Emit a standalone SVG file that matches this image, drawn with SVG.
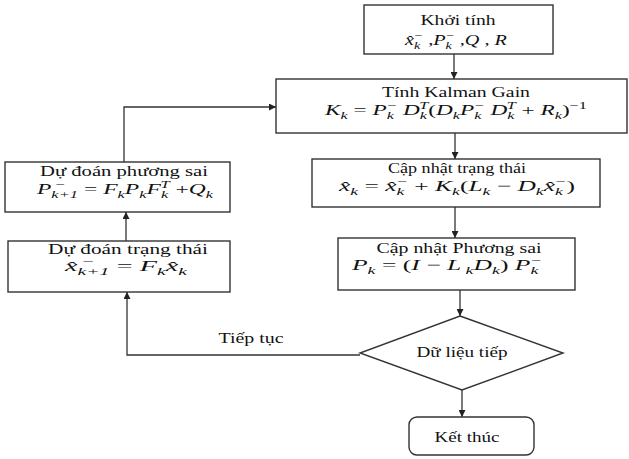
<svg xmlns="http://www.w3.org/2000/svg" width="629" height="459" viewBox="0 0 629 459">
<defs>
<marker id="ah" viewBox="0 0 10 10" refX="10" refY="5" markerWidth="7" markerHeight="7" orient="auto" markerUnits="userSpaceOnUse">
<path d="M0,0 L10,5 L0,10 Z" fill="#222"/>
</marker>
<style>
.box{fill:#fff;stroke:#333;stroke-width:1.4}
.ln{fill:none;stroke:#333;stroke-width:1.3}
text{font-family:"Times New Roman","Liberation Serif","DejaVu Serif","Noto Serif",serif;font-size:15px;fill:#111;text-anchor:middle}
.m{font-style:italic}
.s{font-size:10.5px}
.n{font-style:normal}
</style>
</defs>
<rect width="629" height="459" fill="#fff"/>

<g id="connectors">
<line class="ln" x1="454" y1="54" x2="454" y2="79" marker-end="url(#ah)"/>
<line class="ln" x1="455" y1="133" x2="455" y2="159" marker-end="url(#ah)"/>
<line class="ln" x1="455" y1="207" x2="455" y2="238" marker-end="url(#ah)"/>
<line class="ln" x1="460" y1="290" x2="460" y2="316" marker-end="url(#ah)"/>
<line class="ln" x1="462" y1="390" x2="462" y2="417" marker-end="url(#ah)"/>
<polyline class="ln" points="124,162 124,107 276,107" marker-end="url(#ah)"/>
<line class="ln" x1="126" y1="241" x2="126" y2="212" marker-end="url(#ah)"/>
<polyline class="ln" points="360,355 127,355 127,292" marker-end="url(#ah)"/>
<text x="251" y="343" textLength="65" lengthAdjust="spacingAndGlyphs">Tiếp tục</text>
</g>

<g id="khoi-tinh">
<rect class="box" x="364" y="5" width="189" height="49"/>
<text x="458" y="25" textLength="75" lengthAdjust="spacingAndGlyphs">Khởi tính</text>
<text class="m" x="456" y="45" textLength="102" lengthAdjust="spacingAndGlyphs">x̂<tspan class="s" dy="4">k</tspan><tspan class="s" dx="-5" dy="-10">−</tspan><tspan dy="6" class="n"> ,</tspan>P<tspan class="s" dy="4">k</tspan><tspan class="s" dx="-5" dy="-10">−</tspan><tspan dy="6" class="n"> ,</tspan>Q<tspan class="n"> ,</tspan> R</text>
</g>

<g id="kalman-gain">
<rect class="box" x="276" y="79" width="351" height="54"/>
<text x="456" y="97" textLength="148" lengthAdjust="spacingAndGlyphs">Tính Kalman Gain</text>
<text class="m" x="456" y="115" textLength="262" lengthAdjust="spacingAndGlyphs">K<tspan class="s" dy="4">k</tspan><tspan class="n" dy="-4"> = </tspan>P<tspan class="s" dy="4">k</tspan><tspan class="s" dx="-5" dy="-10">−</tspan><tspan dy="6"> D</tspan><tspan class="s" dy="4">k</tspan><tspan class="s" dx="-5" dy="-10">T</tspan><tspan class="n" dy="6">(</tspan>D<tspan class="s" dy="4">k</tspan><tspan dy="-4">P</tspan><tspan class="s" dy="4">k</tspan><tspan class="s" dx="-5" dy="-10">−</tspan><tspan dy="6"> D</tspan><tspan class="s" dy="4">k</tspan><tspan class="s" dx="-5" dy="-10">T</tspan><tspan class="n" dy="6"> + </tspan>R<tspan class="s" dy="4">k</tspan><tspan class="n" dy="-4">)</tspan><tspan class="s n" dy="-6">−1</tspan></text>
</g>

<g id="cap-nhat-trang-thai">
<rect class="box" x="312" y="159" width="288" height="48"/>
<text x="457" y="173" textLength="138" lengthAdjust="spacingAndGlyphs">Cập nhật trạng thái</text>
<text class="m" x="457" y="191" textLength="236" lengthAdjust="spacingAndGlyphs">x̂<tspan class="s" dy="4">k</tspan><tspan class="n" dy="-4"> = </tspan>x̂<tspan class="s" dy="4">k</tspan><tspan class="s" dx="-5" dy="-10">−</tspan><tspan class="n" dy="6"> + </tspan>K<tspan class="s" dy="4">k</tspan><tspan class="n" dy="-4">(</tspan>L<tspan class="s" dy="4">k</tspan><tspan class="n" dy="-4"> − </tspan>D<tspan class="s" dy="4">k</tspan><tspan dy="-4">x̂</tspan><tspan class="s" dy="4">k</tspan><tspan class="s" dx="-5" dy="-10">−</tspan><tspan class="n" dy="6">)</tspan></text>
</g>

<g id="cap-nhat-phuong-sai">
<rect class="box" x="338" y="238" width="237" height="52"/>
<text x="459" y="253" textLength="165" lengthAdjust="spacingAndGlyphs">Cập nhật Phương sai</text>
<text class="m" x="447" y="270" textLength="190" lengthAdjust="spacingAndGlyphs">P<tspan class="s" dy="4">k</tspan><tspan class="n" dy="-4"> = (</tspan>I<tspan class="n"> − </tspan>L<tspan class="s" dy="4"> k</tspan><tspan dy="-4">D</tspan><tspan class="s" dy="4">k</tspan><tspan class="n" dy="-4">) </tspan>P<tspan class="s" dy="4">k</tspan><tspan class="s" dx="-5" dy="-10">−</tspan></text>
</g>

<g id="du-doan-phuong-sai">
<rect class="box" x="5" y="162" width="225" height="50"/>
<text x="124" y="176" textLength="168" lengthAdjust="spacingAndGlyphs">Dự đoán phương sai</text>
<text class="m" x="125" y="194" textLength="176" lengthAdjust="spacingAndGlyphs">P<tspan class="s" dy="4">k+1</tspan><tspan class="s" dx="-15" dy="-10">−</tspan><tspan class="n" dx="8" dy="6"> = </tspan>F<tspan class="s" dy="4">k</tspan><tspan dy="-4">P</tspan><tspan class="s" dy="4">k</tspan><tspan dy="-4">F</tspan><tspan class="s" dy="4">k</tspan><tspan class="s" dx="-5" dy="-10">T</tspan><tspan class="n" dy="6"> +</tspan>Q<tspan class="s" dy="4">k</tspan></text>
</g>

<g id="du-doan-trang-thai">
<rect class="box" x="8" y="241" width="222" height="51"/>
<text x="128" y="254" textLength="160" lengthAdjust="spacingAndGlyphs">Dự đoán trạng thái</text>
<text class="m" x="126" y="271" textLength="122" lengthAdjust="spacingAndGlyphs">x̂<tspan class="s" dy="4">k+1</tspan><tspan class="s" dx="-15" dy="-10">−</tspan><tspan class="n" dx="8" dy="6"> = </tspan>F<tspan class="s" dy="4">k</tspan><tspan dy="-4">x̂</tspan><tspan class="s" dy="4">k</tspan></text>
</g>

<g id="du-lieu-tiep">
<polygon class="box" points="460,316 563,353 462,390 360,353"/>
<text x="462" y="357" textLength="91" lengthAdjust="spacingAndGlyphs">Dữ liệu tiếp</text>
</g>

<g id="ket-thuc">
<rect class="box" x="409" y="417" width="125" height="38" rx="8"/>
<text x="467" y="442" textLength="65" lengthAdjust="spacingAndGlyphs">Kết thúc</text>
</g>
</svg>
